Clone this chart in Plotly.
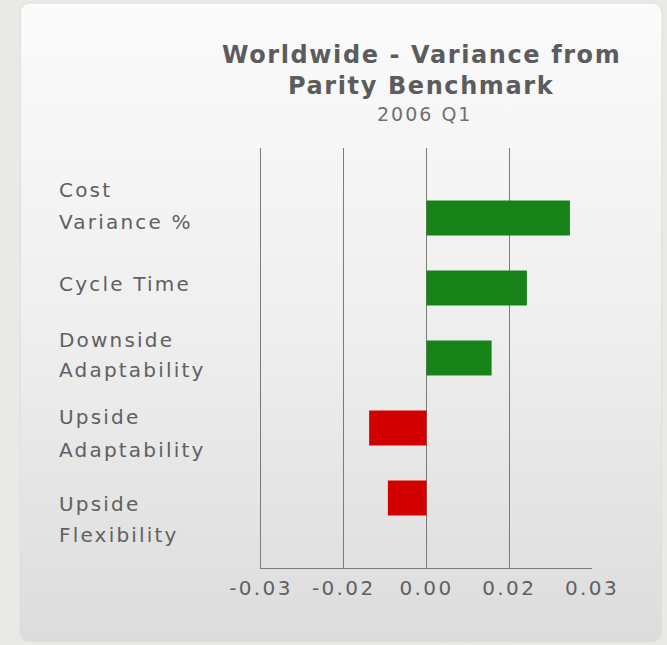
import numpy as np
import plotly.graph_objects as go

# ---- data -------------------------------------------------------------
categories = [
    "Cost Variance %",
    "Cycle Time",
    "Downside Adaptability",
    "Upside Adaptability",
    "Upside Flexibility",
]
label_lines = [
    ["Cost", "Variance %"],
    ["Cycle Time"],
    ["Downside", "Adaptability"],
    ["Upside", "Adaptability"],
    ["Upside", "Flexibility"],
]
variance = [0.0260, 0.0182, 0.0118, -0.0104, -0.0070]
tick_vals = [-0.03, -0.015, 0.0, 0.015, 0.03]
tick_text = ["-0.03", "-0.02", "0.00", "0.02", "0.03"]

title_lines = ["Worldwide - Variance from", "Parity Benchmark"]
subtitle = "2006 Q1"

# ---- layout constants (pixels) ---------------------------------------
W, H = 667, 645
PLOT_L, PLOT_R, PLOT_T, PLOT_B = 261, 592, 148, 568
PANEL = (20, 3, 662, 642)  # left, top, right, bottom
FONT = "DejaVu Sans, Verdana, sans-serif"
TEXT_GREY = "#606060"
GRID = "#7c7c76"
POS_COLOR = "#178217"
NEG_COLOR = "#d30000"


def px_x(x):
    return x / W


def px_y(y):
    return 1 - y / H


def spaced(s, px):
    return f'<span style="letter-spacing:{px}px">{s}</span>'


def rounded_rect(l, t, r, b, rad, n=10):
    xs, ys = [], []
    corners = [
        (r - rad, t + rad, -90, 0),
        (r - rad, b - rad, 0, 90),
        (l + rad, b - rad, 90, 180),
        (l + rad, t + rad, 180, 270),
    ]
    for cx, cy, a0, a1 in corners:
        ang = np.radians(np.linspace(a0, a1, n))
        xs.extend(cx + rad * np.cos(ang))
        ys.extend(cy + rad * np.sin(ang))
    xs.append(xs[0])
    ys.append(ys[0])
    return xs, ys


fig = go.Figure()

# background panel with a soft vertical gradient
bx, by = rounded_rect(*PANEL, rad=10)
fig.add_trace(
    go.Scatter(
        x=bx, y=by, mode="lines", fill="toself",
        line=dict(color="#dededa", width=1),
        fillgradient=dict(
            type="vertical",
            colorscale=[[0, "#fbfbfb"], [0.5, "#efefef"], [1, "#dcdcdc"]],
            start=PANEL[1], stop=PANEL[3],
        ),
        hoverinfo="skip", showlegend=False,
        xaxis="x", yaxis="y",
    )
)

# variance bars
fig.add_trace(
    go.Bar(
        x=variance,
        y=list(range(len(categories))),
        orientation="h",
        width=0.5,
        marker=dict(
            color=[POS_COLOR if v >= 0 else NEG_COLOR for v in variance],
            line=dict(width=0),
        ),
        hovertext=categories,
        showlegend=False,
        xaxis="x2", yaxis="y2",
    )
)

# category labels, one line at a time, left aligned
label_rows = [
    [189.5, 220.5],
    [282.5],
    [339.0, 369.0],
    [415.5, 449.0],
    [502.5, 534.0],
]
annotations = []
for lines, rows in zip(label_lines, label_rows):
    for line, yy in zip(lines, rows):
        annotations.append(dict(
            text=spaced(line, 2.2), xref="paper", yref="paper",
            x=px_x(57), y=px_y(yy + 1), xanchor="left", yanchor="middle",
            showarrow=False, font=dict(family=FONT, size=20, color=TEXT_GREY),
        ))

# title block
for line, yy in zip(title_lines, [54, 85]):
    annotations.append(dict(
        text=spaced(f"<b>{line}</b>", 1.6), xref="paper", yref="paper",
        x=px_x(421), y=px_y(yy + 1), xanchor="center", yanchor="middle",
        showarrow=False, font=dict(family=FONT, size=24, color="#5c5c5c"),
    ))
annotations.append(dict(
    text=spaced(subtitle, 2.0), xref="paper", yref="paper",
    x=px_x(425), y=px_y(114), xanchor="center", yanchor="middle",
    showarrow=False, font=dict(family=FONT, size=19, color="#707070"),
))

fig.update_layout(
    width=W, height=H,
    margin=dict(l=0, r=0, t=0, b=0, pad=0, autoexpand=False),
    paper_bgcolor="#e9e9e5",
    plot_bgcolor="rgba(0,0,0,0)",
    bargap=0.5,
    xaxis=dict(domain=[0, 1], range=[0, W], visible=False,
               fixedrange=True, automargin=False),
    yaxis=dict(domain=[0, 1], range=[H, 0], visible=False,
               fixedrange=True, automargin=False),
    xaxis2=dict(
        domain=[px_x(PLOT_L), px_x(PLOT_R)], anchor="y2",
        range=[-0.03, 0.03], automargin=False,
        tickvals=tick_vals,
        ticktext=[spaced(t, 2.4) for t in tick_text],
        tickfont=dict(family=FONT, size=20, color=TEXT_GREY),
        showgrid=True, gridcolor=GRID, gridwidth=1.4,
        zeroline=True, zerolinecolor=GRID, zerolinewidth=1.4,
        showline=True, linecolor=GRID, linewidth=1.4,
        ticks="outside", ticklen=2, tickcolor="rgba(0,0,0,0)",
    ),
    yaxis2=dict(
        domain=[px_y(PLOT_B), px_y(PLOT_T)], anchor="x2",
        range=[len(categories), -1], automargin=False,
        showticklabels=False, showgrid=False, zeroline=False,
        showline=True, linecolor=GRID, linewidth=1.4,
    ),
    annotations=annotations,
)

fig.write_html("out.html")
